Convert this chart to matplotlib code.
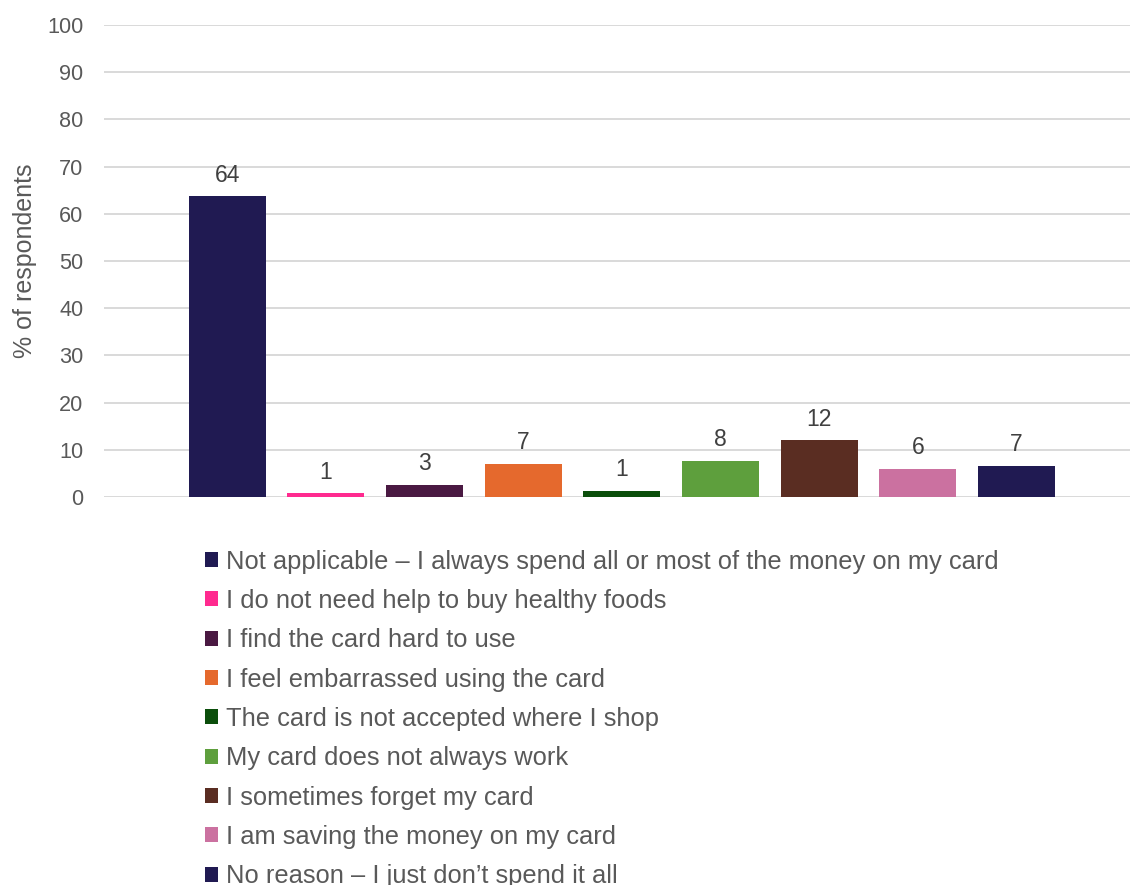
import matplotlib
matplotlib.use("Agg")
import matplotlib.pyplot as plt
from matplotlib.patches import Patch

plt.rcParams["font.family"] = ["Liberation Sans", "DejaVu Sans"]

# Reasons for not spending all the money on the card
categories = [
    "Not applicable \u2013 I always spend all or most of the money on my card",
    "I do not need help to buy healthy foods",
    "I find the card hard to use",
    "I feel embarrassed using the card",
    "The card is not accepted where I shop",
    "My card does not always work",
    "I sometimes forget my card",
    "I am saving the money on my card",
    "No reason \u2013 I just don\u2019t spend it all",
]
values = [63.7, 0.8, 2.6, 7.0, 1.3, 7.6, 12.0, 6.0, 6.6]
colors = ["#201a52", "#ff2a8f", "#4a1942", "#e5692d", "#0b4e0b",
          "#5e9f3d", "#5a2d22", "#cb71a0", "#201a52"]
y_ticks = [0, 10, 20, 30, 40, 50, 60, 70, 80, 90, 100]
y_label = "% of respondents"

fig = plt.figure(figsize=(11.3, 8.85), dpi=100)
ax = fig.add_axes([0.092, 0.4384, 0.908, 0.5334])

positions = list(range(len(values)))
bars = ax.bar(positions, values, width=0.78, color=colors, linewidth=0, zorder=3)

# value labels rounded to whole percentages
for rect, v in zip(bars, values):
    ax.annotate(str(int(v + 0.5)),
                xy=(rect.get_x() + rect.get_width() / 2, v),
                xytext=(0, 7), textcoords="offset points",
                ha="center", va="bottom", fontsize=16.5, color="#404040")

ax.set_ylim(0, 100)
ax.set_xlim(-1.25, 9.15)
ax.set_yticks(y_ticks)
ax.set_xticks([])
ax.yaxis.grid(True, color="#d9d9d9", linewidth=1.4, zorder=0)
ax.tick_params(axis="y", length=0, pad=15, labelsize=15.6, labelcolor="#595959")
for s in ax.spines.values():
    s.set_visible(False)

ax.set_ylabel(y_label, fontsize=18, color="#595959")
ax.yaxis.set_label_coords(-0.065, 0.5)

handles = [Patch(facecolor=c, edgecolor="none") for c in colors]
fig.legend(handles, categories, loc="upper left",
           bbox_to_anchor=(0.1814, 0.379), frameon=False,
           fontsize=18.4, labelcolor="#595959",
           handlelength=0.52, handleheight=0.52, handletextpad=0.3,
           labelspacing=0.6, borderpad=0, borderaxespad=0)

fig.savefig("out.png", dpi=100)
